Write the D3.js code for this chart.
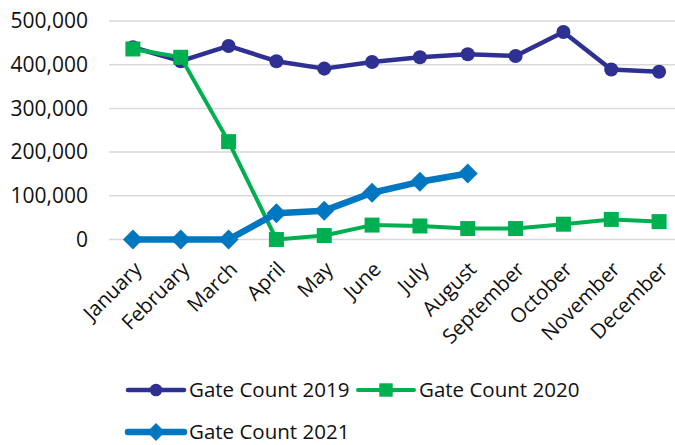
<!DOCTYPE html>
<html>
<head>
<meta charset="utf-8">
<script src="https://cdn.jsdelivr.net/npm/d3@7"></script>
<style>
  body { margin: 0; background: #fff; }
  text { font-family: "Open Sans", "Noto Sans", sans-serif; fill: #111; }
</style>
</head>
<body>
<script>
const months = ['January', 'February', 'March', 'April', 'May', 'June', 'July',
                'August', 'September', 'October', 'November', 'December'];
const yTicks = [0, 100000, 200000, 300000, 400000, 500000];
const count2019 = [440000, 408000, 443000, 408000, 391000, 406000, 417000, 424000, 420000, 475000, 389000, 384000];
const count2020 = [436000, 417000, 224000, 0, 9000, 33000, 31000, 25000, 25000, 35000, 46000, 41000];
const count2021 = [0, 0, 0, 60000, 66000, 107000, 132000, 151000];

const width = 675;
const height = 445;
const plotLeft = 109;
const plotRight = 683;
const plotTop = 21;
const plotBottom = 239.5;

const series = [
  { name: 'Gate Count 2019', values: count2019, color: '#2e3192', width: 4.5, marker: d3.symbolCircle, size: 155, rot: 0 },
  { name: 'Gate Count 2020', values: count2020, color: '#00b050', width: 4, marker: d3.symbolSquare, size: 225, rot: 0 },
  { name: 'Gate Count 2021', values: count2021, color: '#0077c0', width: 6.5, marker: d3.symbolSquare, size: 200, rot: 45 }
];

const svg = d3.select('body').append('svg')
  .attr('width', width)
  .attr('height', height);

const x = d3.scaleBand().domain(months).range([plotLeft, plotRight]);
const y = d3.scaleLinear().domain([0, 500000]).range([plotBottom, plotTop]);
const cx = (m) => x(m) + x.bandwidth() / 2;

// gridlines
svg.append('g')
  .selectAll('line')
  .data(yTicks)
  .join('line')
  .attr('x1', plotLeft)
  .attr('x2', width)
  .attr('y1', (d) => y(d))
  .attr('y2', (d) => y(d))
  .attr('stroke', '#d9d9d9')
  .attr('stroke-width', 1.5);

// y axis labels
svg.append('g')
  .selectAll('text')
  .data(yTicks)
  .join('text')
  .attr('x', 88)
  .attr('y', (d) => y(d))
  .attr('dy', '0.35em')
  .attr('text-anchor', 'end')
  .style('font-size', '21px')
  .text((d) => d3.format(',')(d));

// x axis labels
svg.append('g')
  .selectAll('text')
  .data(months)
  .join('text')
  .attr('text-anchor', 'end')
  .attr('transform', (d) => `translate(${cx(d) + 10}, ${plotBottom + 31}) rotate(-45)`)
  .style('font-size', '20.5px')
  .text((d) => d);

const line = d3.line()
  .x((d, i) => cx(months[i]))
  .y((d) => y(d));

series.forEach((s) => {
  const g = svg.append('g');
  g.append('path')
    .datum(s.values)
    .attr('d', line)
    .attr('fill', 'none')
    .attr('stroke', s.color)
    .attr('stroke-width', s.width)
    .attr('stroke-linejoin', 'round');
  g.selectAll('path.mark')
    .data(s.values)
    .join('path')
    .attr('class', 'mark')
    .attr('transform', (d, i) => `translate(${cx(months[i])}, ${y(d)}) rotate(${s.rot})`)
    .attr('d', d3.symbol().type(s.marker).size(s.size))
    .attr('fill', s.color);
});

// legend
const legendPos = [[128, 390], [358, 390], [128, 432]];
series.forEach((s, i) => {
  const [lx, ly] = legendPos[i];
  const g = svg.append('g').attr('transform', `translate(${lx}, ${ly})`);
  g.append('line')
    .attr('x1', 0).attr('x2', 56)
    .attr('stroke', s.color)
    .attr('stroke-width', s.width)
    .attr('stroke-linecap', 'round');
  g.append('path')
    .attr('transform', `translate(28, 0) rotate(${s.rot})`)
    .attr('d', d3.symbol().type(s.marker).size(s.size * 0.8))
    .attr('fill', s.color);
  g.append('text')
    .attr('x', 61)
    .attr('dy', '0.35em')
    .style('font-size', '20.5px')
    .text(s.name);
});
</script>
</body>
</html>
